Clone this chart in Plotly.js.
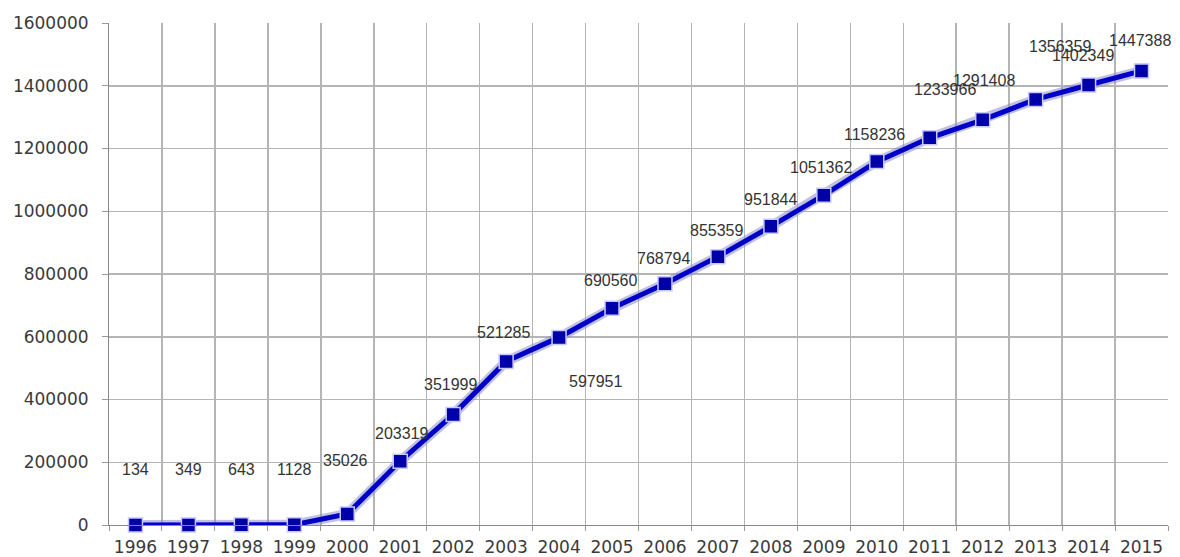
<!DOCTYPE html>
<html>
<head>
<meta charset="utf-8">
<script src="https://cdn.plot.ly/plotly-3.0.1.min.js"></script>
<style>
  html, body { margin: 0; padding: 0; background: #fff; }
  #chart { width: 1180px; height: 557px; }
</style>
</head>
<body>
<div id="chart"></div>
<script>
// Yearly totals
const years = [1996, 1997, 1998, 1999, 2000, 2001, 2002, 2003, 2004, 2005,
               2006, 2007, 2008, 2009, 2010, 2011, 2012, 2013, 2014, 2015];
const totals = [134, 349, 643, 1128, 35026, 203319, 351999, 521285, 597951, 690560,
                768794, 855359, 951844, 1051362, 1158236, 1233966, 1291408, 1356359, 1402349, 1447388];
const yTicks = [0, 200000, 400000, 600000, 800000, 1000000, 1200000, 1400000, 1600000];

// Value label offsets in pixels [dx, dy] relative to each point
const labelOffsets = [
  [0, 55], [0, 55], [0, 55], [0, 55], [-2, 54], [1, 28], [-3, 30], [-3, 29], [36, -44], [-2, 28],
  [-1, 25], [-1, 26], [0, 27], [-3, 28], [-2, 27], [15, 48], [1, 39], [24, 53], [-6, 30], [-2, 30]
];

const halo = {
  x: years, y: totals, type: 'scatter', mode: 'lines',
  line: { color: 'rgba(140,140,200,0.55)', width: 10 },
  hoverinfo: 'skip', showlegend: false, cliponaxis: false
};
const series = {
  x: years, y: totals, type: 'scatter', mode: 'lines+markers',
  line: { color: '#0000c8', width: 5 },
  marker: { symbol: 'square', size: 14, color: '#0000a8', line: { color: '#c8c8ff', width: 1.5 } },
  showlegend: false, cliponaxis: false
};

const annotations = years.map((yr, i) => ({
  x: yr, y: totals[i], xref: 'x', yref: 'y',
  text: String(totals[i]), showarrow: false,
  xshift: labelOffsets[i][0], yshift: labelOffsets[i][1],
  font: { family: 'Liberation Sans, Arial, sans-serif', size: 16, color: '#333' }
}));

const tickFont = { family: 'DejaVu Sans, sans-serif', size: 17, color: '#3a3a3a' };

const layout = {
  width: 1180, height: 557,
  margin: { l: 109, r: 12, t: 23, b: 32 },
  paper_bgcolor: '#fff', plot_bgcolor: '#fff',
  font: { family: 'Liberation Sans, Arial, sans-serif', size: 14, color: '#333' },
  xaxis: {
    type: 'linear', range: [1995.5, 2015.5],
    tickvals: years, ticktext: years.map(String),
    showgrid: false, zeroline: false, ticks: '',
    tickfont: tickFont, ticklabelstandoff: 7,
    showline: true, linecolor: '#888', linewidth: 1, mirror: false,
    minor: { tick0: 1995.5, dtick: 1, showgrid: true, gridcolor: '#b4b4b4', gridwidth: 1.5,
             ticks: 'outside', ticklen: 5, tickcolor: '#999' }
  },
  yaxis: {
    range: [0, 1600000], tickvals: yTicks, ticktext: yTicks.map(String),
    showgrid: true, gridcolor: '#b4b4b4', gridwidth: 1.5,
    zeroline: false, ticks: 'outside', ticklen: 6, tickcolor: '#999',
    showline: true, linecolor: '#888', linewidth: 1,
    tickfont: tickFont, ticklabelstandoff: 10
  },
  annotations: annotations
};

Plotly.newPlot('chart', [halo, series], layout, { displayModeBar: false, staticPlot: true });
</script>
</body>
</html>
